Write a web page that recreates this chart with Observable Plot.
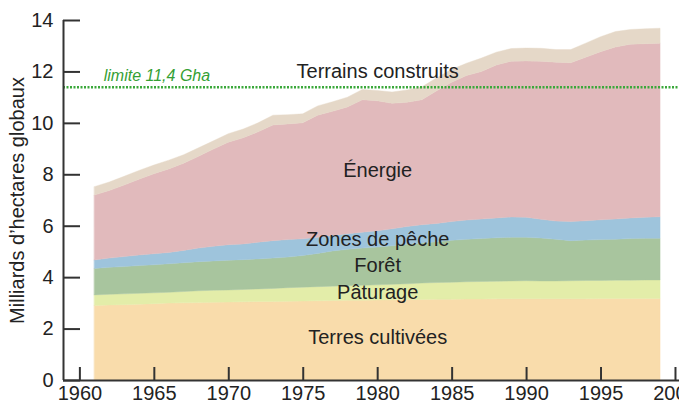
<!DOCTYPE html>
<html>
<head>
<meta charset="utf-8">
<script src="https://cdn.jsdelivr.net/npm/d3@7"></script>
<script src="https://cdn.jsdelivr.net/npm/@observablehq/plot@0.6"></script>
<style>
  body { margin: 0; background: #fff; overflow: hidden; }
</style>
</head>
<body>
<div id="chart"></div>
<script>
// ---- Data (billions of global hectares) ----
const years = [1961,1962,1963,1964,1965,1966,1967,1968,1969,1970,1971,1972,1973,1974,1975,1976,1977,1978,1979,1980,1981,1982,1983,1984,1985,1986,1987,1988,1989,1990,1991,1992,1993,1994,1995,1996,1997,1998,1999];
const cultivated = [2.90,2.92,2.93,2.95,2.97,2.99,3.00,3.01,3.02,3.03,3.04,3.05,3.05,3.06,3.07,3.08,3.09,3.10,3.10,3.11,3.12,3.13,3.13,3.14,3.14,3.15,3.15,3.16,3.16,3.16,3.16,3.16,3.16,3.16,3.17,3.17,3.17,3.17,3.17];
const pasture    = [0.41,0.41,0.42,0.42,0.42,0.42,0.44,0.46,0.47,0.47,0.48,0.49,0.51,0.53,0.54,0.55,0.56,0.57,0.58,0.59,0.60,0.61,0.64,0.65,0.66,0.67,0.68,0.68,0.69,0.70,0.69,0.69,0.70,0.71,0.70,0.71,0.71,0.72,0.72];
const forest     = [1.03,1.05,1.06,1.08,1.09,1.11,1.12,1.13,1.14,1.16,1.16,1.17,1.18,1.19,1.23,1.29,1.37,1.41,1.45,1.47,1.50,1.54,1.56,1.59,1.63,1.65,1.67,1.69,1.70,1.69,1.67,1.62,1.56,1.57,1.59,1.59,1.62,1.62,1.62];
const fishing    = [0.33,0.36,0.39,0.41,0.43,0.44,0.48,0.53,0.57,0.60,0.61,0.65,0.68,0.68,0.65,0.63,0.60,0.61,0.62,0.63,0.66,0.69,0.71,0.71,0.73,0.75,0.76,0.77,0.79,0.78,0.73,0.71,0.74,0.75,0.77,0.79,0.80,0.82,0.84];
const energy     = [2.52,2.63,2.78,2.95,3.11,3.25,3.39,3.57,3.78,3.99,4.13,4.29,4.50,4.50,4.51,4.75,4.83,4.93,5.15,5.06,4.88,4.83,4.86,5.16,5.42,5.62,5.74,5.95,6.06,6.08,6.15,6.18,6.18,6.36,6.54,6.69,6.76,6.75,6.75];
const built      = [0.33,0.33,0.34,0.34,0.34,0.34,0.33,0.33,0.32,0.33,0.34,0.35,0.38,0.36,0.35,0.36,0.37,0.38,0.40,0.40,0.44,0.48,0.50,0.50,0.50,0.48,0.52,0.50,0.49,0.50,0.50,0.49,0.51,0.55,0.58,0.60,0.57,0.58,0.58];

const seriesNames  = ["Terres cultivées","Pâturage","Forêt","Zones de pêche","Énergie","Terrains construits"];
const seriesColors = ["#f9dcab","#e3eda9","#a8c59e","#9ec4dc","#e1babc","#e5d8c8"];
const labelYears   = [1980, 1980, 1980, 1980, 1980, 1980];
const labelValues  = [1.67, 3.42, 4.45, 5.48, 8.18, 12.03];

const limitValue = 11.4;
const limitLabel = "limite 11,4 Gha";
const limitLabelYear = 1961.6;
const limitLabelValue = 11.86;

const yTitle = "Milliards d\u2019hectares globaux";
const xTicks = [1960,1965,1970,1975,1980,1985,1990,1995,2000];
const yTicks = [0,2,4,6,8,10,12,14];
const xDomain = [1958.9, 2000.27];
const yDomain = [0, 14];

// ---- Build table ----
const seriesValues = [cultivated, pasture, forest, fishing, energy, built];
const rows = seriesNames.flatMap((s, i) => years.map((yr, j) => ({year: yr, series: s, value: seriesValues[i][j]})));
const labels = seriesNames.map((s, i) => ({text: s, x: labelYears[i], y: labelValues[i]}));

const W = 679, H = 405, ML = 63, MR = 0, MT = 20, MB = 25;
const axisColor = "#333";
const textColor = "#222";

const chart = Plot.plot({
  width: W, height: H,
  marginLeft: ML, marginRight: MR, marginTop: MT, marginBottom: MB,
  style: {fontFamily: "'Liberation Sans', Arial, sans-serif", fontSize: "20px", color: textColor, background: "#fff", overflow: "visible"},
  x: {domain: xDomain},
  y: {domain: yDomain},
  color: {domain: seriesNames, range: seriesColors},
  marks: [
    Plot.areaY(rows, {x: "year", y: "value", z: "series", fill: "series", order: seriesNames, stroke: "series", strokeWidth: 0.4}),
    Plot.ruleY([limitValue], {stroke: "#3aa83a", strokeWidth: 2.5, strokeDasharray: "2,1.5"}),
    Plot.text([limitLabel], {x: limitLabelYear, y: limitLabelValue, text: d => d, textAnchor: "start", fill: "#34a034", fontStyle: "italic", fontSize: 16}),
    Plot.text(labels, {x: "x", y: "y", text: "text", fill: textColor, fontSize: 20, textAnchor: "middle"}),
    // axis lines
    Plot.ruleX([xDomain[0]], {stroke: axisColor, strokeWidth: 2}),
    Plot.ruleY([0], {stroke: axisColor, strokeWidth: 2}),
    // inward ticks
    Plot.tickY(yTicks, {y: d => d, stroke: axisColor, strokeWidth: 2, insetRight: (W - ML - MR) - 17}),
    Plot.tickX(xTicks, {x: d => d, stroke: axisColor, strokeWidth: 2, insetTop: (H - MT - MB) - 13}),
    // tick labels
    Plot.axisY(yTicks, {tickSize: 0, tickPadding: 10, label: null, fontSize: 20, fill: textColor}),
    Plot.axisX(xTicks, {tickSize: 0, tickPadding: 5, label: null, fontSize: 20, fill: textColor, tickFormat: d => String(d)}),
    // y title
    Plot.text([yTitle], {frameAnchor: "left", rotate: -90, dx: -46, text: d => d, fontSize: 20, fill: textColor, textAnchor: "middle"})
  ]
});
document.getElementById("chart").appendChild(chart);
</script>
</body>
</html>
